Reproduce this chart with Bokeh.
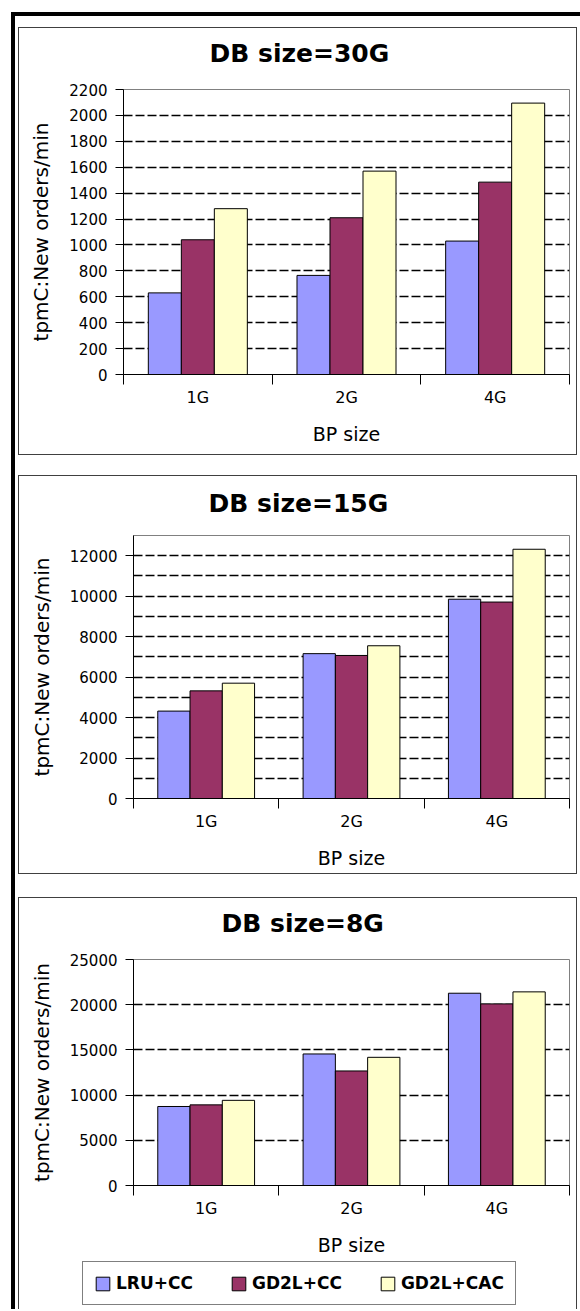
from bokeh.plotting import figure
from bokeh.layouts import column
from bokeh.models import (ColumnDataSource, FixedTicker, Range1d, Legend,
                          LegendItem, Spacer, Title)
from bokeh.transform import dodge
from bokeh.embed import file_html
from bokeh.resources import INLINE

# Buffer-pool sizes (categories) and replacement policies (series)
bp_sizes = ["1G", "2G", "4G"]
policies = ["LRU+CC", "GD2L+CC", "GD2L+CAC"]
policy_colors = ["#9999FF", "#993366", "#FFFFCC"]

# tpmC (new orders per minute), DB size = 30G
db30_lru_cc = [630, 765, 1030]
db30_gd2l_cc = [1040, 1210, 1485]
db30_gd2l_cac = [1280, 1570, 2095]

# tpmC, DB size = 15G
db15_lru_cc = [4320, 7160, 9850]
db15_gd2l_cc = [5320, 7070, 9710]
db15_gd2l_cac = [5700, 7550, 12320]

# tpmC, DB size = 8G
db8_lru_cc = [8740, 14550, 21270]
db8_gd2l_cc = [8920, 12670, 20090]
db8_gd2l_cac = [9420, 14180, 21420]

FONT = "DejaVu Sans"
BAR_W = 0.222


def bar_source(series):
    data = {"x": [i + 0.5 for i in range(len(bp_sizes))]}
    for k, vals in enumerate(series):
        data[f"s{k}"] = vals
    return ColumnDataSource(data)


def add_bars(p, src, n):
    rs = []
    for k in range(n):
        r = p.vbar(x=dodge("x", (k - 1) * BAR_W, range=p.x_range),
                   top=f"s{k}", width=BAR_W, source=src,
                   fill_color=policy_colors[k], line_color="black",
                   line_width=1)
        rs.append(r)
    return rs


def make_panel(title, series, y_max, label_top, label_step, grid_step,
               width, height, borders, title_offset, title_gap):
    left, right, top, bottom = borders
    p = figure(width=width, height=height,
               x_range=Range1d(0, len(bp_sizes)), y_range=Range1d(0, y_max),
               output_backend="svg", toolbar_location=None, tools="",
               min_border_left=left, min_border_right=right,
               min_border_top=top, min_border_bottom=bottom,
               background_fill_color="white", border_fill_color="white")

    add_bars(p, bar_source(series), len(series))

    # frame and grid
    p.outline_line_color = "#808080"
    p.outline_line_width = 1
    p.xgrid.visible = False
    p.ygrid.ticker = FixedTicker(ticks=list(range(0, y_max + 1, grid_step)))
    p.ygrid.grid_line_color = "black"
    p.ygrid.grid_line_dash = "9 3"
    p.ygrid.grid_line_width = 1.3

    # y axis
    ya = p.left[0]
    ya.ticker = FixedTicker(ticks=list(range(0, label_top + 1, label_step)))
    ya.axis_line_color = "black"
    ya.major_tick_line_color = "black"
    ya.major_tick_out = 8
    ya.major_tick_in = 0
    ya.minor_tick_out = 0
    ya.minor_tick_in = 0
    ya.major_label_standoff = 8
    ya.major_label_text_font = FONT
    ya.major_label_text_font_size = "15px"
    ya.major_label_text_color = "black"
    ya.axis_label = "tpmC:New orders/min"
    ya.axis_label_text_font = FONT
    ya.axis_label_text_font_size = "20px"
    ya.axis_label_text_font_style = "normal"
    ya.axis_label_text_color = "black"
    ya.axis_label_standoff = 13

    # x axis: labels at category centres, tick marks on category boundaries
    xa = p.below[0]
    centers = [i + 0.5 for i in range(len(bp_sizes))]
    xa.ticker = FixedTicker(ticks=centers,
                            minor_ticks=list(range(len(bp_sizes) + 1)))
    xa.major_label_overrides = {c: lab for c, lab in zip(centers, bp_sizes)}
    xa.axis_line_color = "black"
    xa.major_tick_out = 0
    xa.major_tick_in = 0
    xa.minor_tick_out = 10
    xa.minor_tick_in = 0
    xa.minor_tick_line_color = "black"
    xa.major_label_standoff = 3
    xa.major_label_text_font = FONT
    xa.major_label_text_font_size = "16px"
    xa.major_label_text_color = "black"
    xa.axis_label = "BP size"
    xa.axis_label_text_font = FONT
    xa.axis_label_text_font_size = "19px"
    xa.axis_label_text_font_style = "normal"
    xa.axis_label_text_color = "black"
    xa.axis_label_standoff = 13

    # blank band next to the plot area, then the heading above it
    band = Title(text=" ", text_font=FONT, text_font_size="2px",
                 standoff=title_gap)
    p.add_layout(band, "above")
    heading = Title(text=title, text_font=FONT, text_font_size="25px",
                    text_font_style="bold", text_color="black", align="left",
                    offset=title_offset, standoff=4)
    p.add_layout(heading, "above")
    return p


series8 = [db8_lru_cc, db8_gd2l_cc, db8_gd2l_cac]

p1 = make_panel("DB size=30G", [db30_lru_cc, db30_gd2l_cc, db30_gd2l_cac],
                2200, 2200, 200, 200, 557, 426, (104, 7, 61, 80), 86, 16)
p2 = make_panel("DB size=15G", [db15_lru_cc, db15_gd2l_cc, db15_gd2l_cac],
                13000, 12000, 2000, 1000, 550, 397, (104, 7, 59, 75), 75, 12)
p3 = make_panel("DB size=8G", series8,
                25000, 25000, 5000, 5000, 550, 360, (104, 7, 61, 72), 88, 16)

# key strip under the last chart: its sample bars lie beneath the key box,
# and the strip is shifted left so the box lines up under the y axis
pl = figure(width=550, height=51, x_range=Range1d(0, len(bp_sizes)),
            y_range=Range1d(-15000, 100000), output_backend="svg",
            toolbar_location=None, tools="", x_axis_type=None,
            y_axis_type=None, min_border_left=104, min_border_right=7,
            min_border_top=0, min_border_bottom=0, outline_line_color=None,
            background_fill_alpha=0, border_fill_alpha=0,
            styles={"transform": "translateX(-51px)"})
pl.xgrid.visible = False
pl.ygrid.visible = False
legend_bars = add_bars(pl, bar_source(series8), len(series8))

legend = Legend(items=[LegendItem(label=name, renderers=[r])
                       for name, r in zip(policies, legend_bars)],
                orientation="horizontal", location=(0, 4))
legend.label_text_font = FONT
legend.label_text_font_size = "17px"
legend.label_text_font_style = "bold"
legend.label_text_color = "black"
legend.glyph_width = 17
legend.glyph_height = 17
legend.label_height = 17
legend.label_standoff = 5
legend.spacing = 37
legend.padding = 11
legend.margin = 0
legend.border_line_color = "black"
legend.border_line_width = 1.5
legend.background_fill_color = "white"
legend.background_fill_alpha = 1.0
pl.add_layout(legend, "center")

box = "1px solid #404040"
panel1 = column(p1, styles={"border": box})
panel2 = column(p2, styles={"border": box, "padding-left": "7px"})
panel3 = column(p3, pl, styles={"border-top": box, "border-left": box,
                                "border-right": box, "padding-left": "7px"})

page = column(panel1, Spacer(height=20), panel2, Spacer(height=23), panel3,
              margin=(12, 0, 0, 11),
              styles={"border-top": "4px solid black",
                      "border-left": "4px solid black",
                      "padding-top": "11px", "padding-left": "3px",
                      "padding-right": "3px", "background": "white"})

open("out.html", "w").write(file_html(page, INLINE))
